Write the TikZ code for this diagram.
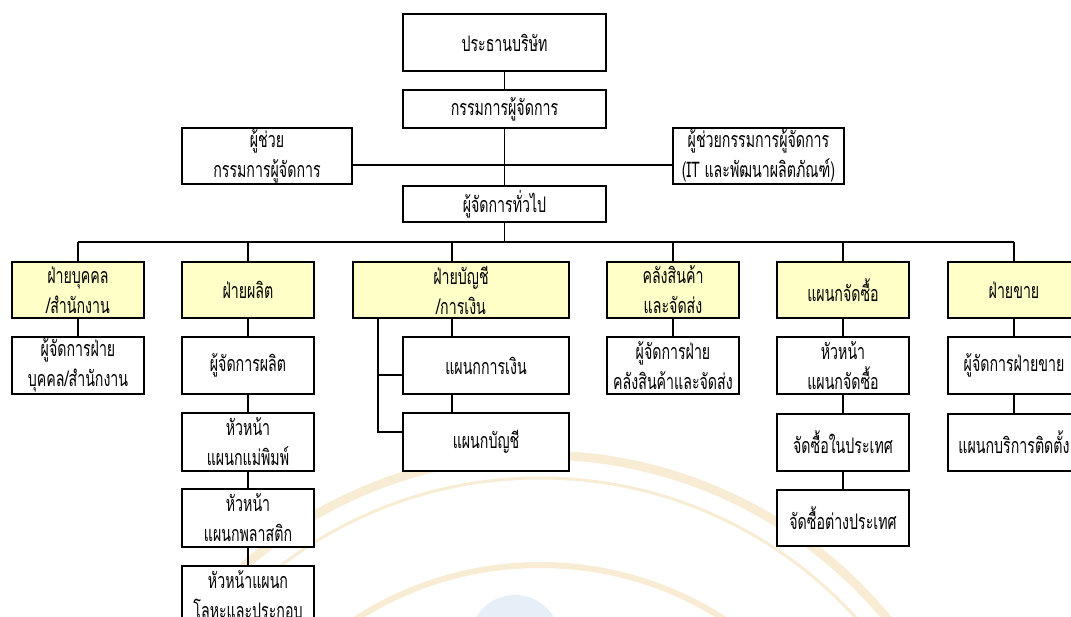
\documentclass[tikz,border=0pt]{standalone}
\usepackage{fontspec}
\newfontfamily\thai[Script=Thai,FakeStretch=0.66]{Loma}
\definecolor{boxyellow}{HTML}{FFFFC8}
\definecolor{wmgold}{HTML}{F8EDD4}
\definecolor{wmblue}{HTML}{E6EEF8}
\tikzset{
  box/.style={draw=black, line width=1.2pt, fill=white, rectangle, inner sep=0pt,
    align=center, font=\thai\fontsize{21.5}{30}\selectfont},
  dept/.style={box, fill=boxyellow},
  conn/.style={draw=black, line width=1.1pt},
}
\begin{document}
\begin{tikzpicture}[x=1pt,y=-1pt]
\useasboundingbox (0,0) rectangle (1071,617);
\fill[white] (0,0) rectangle (1071,617);
% faint watermark
\begin{scope}
\clip (0,380) rectangle (1071,617);
\draw[wmgold, line width=9pt] (540,905) circle (450);
\draw[wmgold, line width=3pt] (540,905) circle (427);
\draw[wmgold, line width=6pt] (540,905) circle (340);
\fill[wmblue] (515,640) circle (45);
\end{scope}
% top level
\node[box, minimum width=203, minimum height=57] (pres) at (504.5,42.5) {ประธานบริษัท};
\node[box, minimum width=203, minimum height=38] (md) at (504.5,109) {กรรมการผู้จัดการ};
\node[box, minimum width=170, minimum height=56] (asst) at (267,156) {ผู้ช่วย\\กรรมการผู้จัดการ};
\node[box, minimum width=171, minimum height=56] (asstit) at (758.5,156) {ผู้ช่วยกรรมการผู้จัดการ\\(IT และพัฒนาผลิตภัณฑ์)};
\node[box, minimum width=203, minimum height=36] (gm) at (504.5,204) {ผู้จัดการทั่วไป};
% departments
\node[dept, minimum width=132, minimum height=56] (hr) at (78,290) {ฝ่ายบุคคล\\/สำนักงาน};
\node[dept, minimum width=132, minimum height=56] (prod) at (248,290) {ฝ่ายผลิต};
\node[dept, minimum width=216, minimum height=56] (acc) at (461,290) {ฝ่ายบัญชี\\/การเงิน};
\node[dept, minimum width=132, minimum height=56] (wh) at (673,290) {คลังสินค้า\\และจัดส่ง};
\node[dept, minimum width=132, minimum height=56] (pur) at (843,290) {แผนกจัดซื้อ};
\node[dept, minimum width=132, minimum height=56] (sales) at (1014,290) {ฝ่ายขาย};
% level 3
\node[box, minimum width=132, minimum height=57] (hrm) at (78,365.5) {ผู้จัดการฝ่าย\\บุคคล/สำนักงาน};
\node[box, minimum width=132, minimum height=57] (prodm) at (248,365.5) {ผู้จัดการผลิต};
\node[box, minimum width=166, minimum height=57] (fin) at (486,365.5) {แผนกการเงิน};
\node[box, minimum width=132, minimum height=57] (whm) at (673,365.5) {ผู้จัดการฝ่าย\\คลังสินค้าและจัดส่ง};
\node[box, minimum width=132, minimum height=57] (purh) at (843,365.5) {หัวหน้า\\แผนกจัดซื้อ};
\node[box, minimum width=132, minimum height=57] (salesm) at (1014,365.5) {ผู้จัดการฝ่ายขาย};
% level 4
\node[box, minimum width=132, minimum height=58] (mold) at (248,442) {หัวหน้า\\แผนกแม่พิมพ์};
\node[box, minimum width=166, minimum height=58] (acct) at (486,442) {แผนกบัญชี};
\node[box, minimum width=132, minimum height=57] (dom) at (843,442.5) {จัดซื้อในประเทศ};
\node[box, minimum width=132, minimum height=57] (inst) at (1014,442.5) {แผนกบริการติดตั้ง};
% level 5, 6
\node[box, minimum width=132, minimum height=58] (plas) at (248,518) {หัวหน้า\\แผนกพลาสติก};
\node[box, minimum width=132, minimum height=56] (forn) at (843,518) {จัดซื้อต่างประเทศ};
\node[box, minimum width=132, minimum height=58] (metal) at (248,595) {หัวหน้าแผนก\\โลหะและประกอบ};
% helper coordinates
\coordinate (busy) at (0,242);
\coordinate (midy) at (0,165);
\coordinate (accx) at (452,0);
\coordinate (brx) at (378,0);
\coordinate (t1) at (0,375);
\coordinate (t2) at (0,432);
\coordinate (bl) at (hr.north |- busy);
\coordinate (br) at (sales.north |- busy);
\coordinate (ml) at (asst.east |- midy);
\coordinate (mr) at (asstit.west |- midy);
% connectors
\draw[conn] (pres.south) -- (md.north);
\draw[conn] (md.south) -- (gm.north);
\draw[conn] (ml) -- (mr);
\draw[conn] (gm.south) -- (gm.south |- busy);
\draw[conn] (bl) -- (br);
\draw[conn] (bl) -- (hr.north);
\draw[conn] (prod.north |- busy) -- (prod.north);
\draw[conn] (accx |- busy) -- (accx |- acc.north);
\draw[conn] (wh.north |- busy) -- (wh.north);
\draw[conn] (pur.north |- busy) -- (pur.north);
\draw[conn] (br) -- (sales.north);
\draw[conn] (hr.south) -- (hrm.north);
\draw[conn] (prod.south) -- (prodm.north);
\draw[conn] (prodm.south) -- (mold.north);
\draw[conn] (mold.south) -- (plas.north);
\draw[conn] (plas.south) -- (metal.north);
\draw[conn] (accx |- acc.south) -- (accx |- fin.north);
\draw[conn] (accx |- fin.south) -- (accx |- acct.north);
\draw[conn] (brx |- acc.south) -- (brx |- t2) -- (acct.west |- t2);
\draw[conn] (brx |- t1) -- (fin.west |- t1);
\draw[conn] (wh.south) -- (whm.north);
\draw[conn] (pur.south) -- (purh.north);
\draw[conn] (purh.south) -- (dom.north);
\draw[conn] (dom.south) -- (forn.north);
\draw[conn] (sales.south) -- (salesm.north);
\draw[conn] (salesm.south) -- (inst.north);
\end{tikzpicture}
\end{document}
